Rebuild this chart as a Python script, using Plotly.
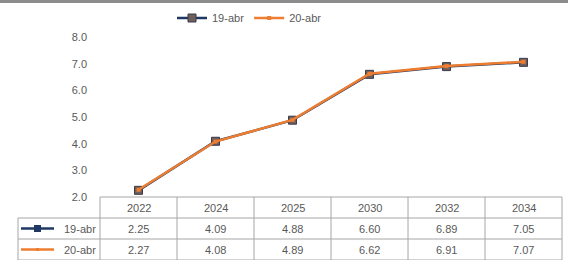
import plotly.graph_objects as go

years = ["2022", "2024", "2025", "2030", "2032", "2034"]
s19_name = "19-abr"
s20_name = "20-abr"
s19 = [2.25, 4.09, 4.88, 6.60, 6.89, 7.05]
s20 = [2.27, 4.08, 4.89, 6.62, 6.91, 7.07]
y_ticks = [2, 3, 4, 5, 6, 7, 8]

NAVY = "#1F3864"
ORANGE = "#ED7D31"
TXT = "#595959"
GRID = "#A6A6A6"
FONT = "Liberation Sans, Arial, sans-serif"

W, H = 568, 260
L, R, T, B = 100, 6, 37, 63
pw = W - L - R
ph = H - T - B

fig = go.Figure()
fig.add_trace(go.Scatter(
    x=years, y=s19, name=s19_name, mode="lines+markers",
    line=dict(color=NAVY, width=2.5),
    marker=dict(symbol="square", size=8, color="#6E5F5C", line=dict(color="#3A3A4A", width=1)),
))
fig.add_trace(go.Scatter(
    x=years, y=s20, name=s20_name, mode="lines+markers",
    line=dict(color=ORANGE, width=2.5),
    marker=dict(symbol="square", size=4, color=ORANGE),
))

shapes = []
annotations = []
row_h = 21 / ph  # in paper units
n = len(years)
label_left = (18 - L) / pw
tf = dict(color=TXT, size=11, family=FONT)

# top border of the frame
shapes.append(dict(type="line", xref="paper", yref="paper", x0=-L / pw, x1=(W - L) / pw,
                   y0=1 + (T - 1.5) / ph, y1=1 + (T - 1.5) / ph,
                   line=dict(color="#8C8C8C", width=3)))

# horizontal table lines
for k in range(4):
    x0 = 0 if k == 0 else label_left
    shapes.append(dict(type="line", xref="paper", yref="paper", x0=x0, x1=1,
                       y0=-k * row_h, y1=-k * row_h, line=dict(color=GRID, width=1)))
# vertical table lines
for i in range(n + 1):
    xp = i / n
    shapes.append(dict(type="line", xref="paper", yref="paper", x0=xp, x1=xp,
                       y0=0, y1=-3 * row_h, line=dict(color=GRID, width=1)))
shapes.append(dict(type="line", xref="paper", yref="paper", x0=label_left, x1=label_left,
                   y0=-row_h, y1=-3 * row_h, line=dict(color=GRID, width=1)))

# header and values
for i, yr in enumerate(years):
    xc = (i + 0.5) / n
    for row, txt in enumerate([yr, f"{s19[i]:.2f}", f"{s20[i]:.2f}"]):
        annotations.append(dict(xref="paper", yref="paper", x=xc, y=-(row + 0.5) * row_h,
                                text=txt, xanchor="center", yanchor="middle",
                                showarrow=False, font=tf))

# row labels with legend keys
for r, (nm, col, big) in enumerate([(s19_name, NAVY, True), (s20_name, ORANGE, False)]):
    yc = -(1.5 + r) * row_h
    annotations.append(dict(xref="paper", yref="paper", x=(98 - L) / pw, y=yc, text=nm,
                            xanchor="right", yanchor="middle", showarrow=False, font=tf))
    shapes.append(dict(type="line", xref="paper", yref="paper",
                       x0=(21 - L) / pw, x1=(54 - L) / pw, y0=yc, y1=yc,
                       line=dict(color=col, width=2.5)))
    s = 3.5 if big else 1.5
    shapes.append(dict(type="rect", xref="paper", yref="paper",
                       x0=(37.5 - s - L) / pw, x1=(37.5 + s - L) / pw,
                       y0=yc - s / ph, y1=yc + s / ph,
                       fillcolor=col, line=dict(color=col, width=0)))

fig.update_layout(
    width=W, height=H,
    margin=dict(l=L, r=R, t=T, b=B, autoexpand=False),
    paper_bgcolor="white", plot_bgcolor="white",
    font=dict(family=FONT, size=11, color=TXT),
    showlegend=True,
    legend=dict(orientation="h", x=(172 - L) / pw, xanchor="left",
                y=1 + (T - 18) / ph, yanchor="middle",
                font=dict(size=11, color=TXT),
                bgcolor="rgba(0,0,0,0)"),
    xaxis=dict(type="category", range=[-0.5, n - 0.5], showticklabels=False,
               showgrid=False, zeroline=False, showline=False, ticks=""),
    yaxis=dict(range=[2, 8], tickvals=y_ticks, tickformat=".1f", showgrid=False,
               zeroline=False, showline=False, ticks="", ticklabelstandoff=12,
               tickfont=dict(size=11, color=TXT)),
    shapes=shapes, annotations=annotations,
)

fig.write_html("out.html",
               config={"displayModeBar": False},
               post_script="document.body.style.margin='0';document.body.style.overflow='hidden';")
